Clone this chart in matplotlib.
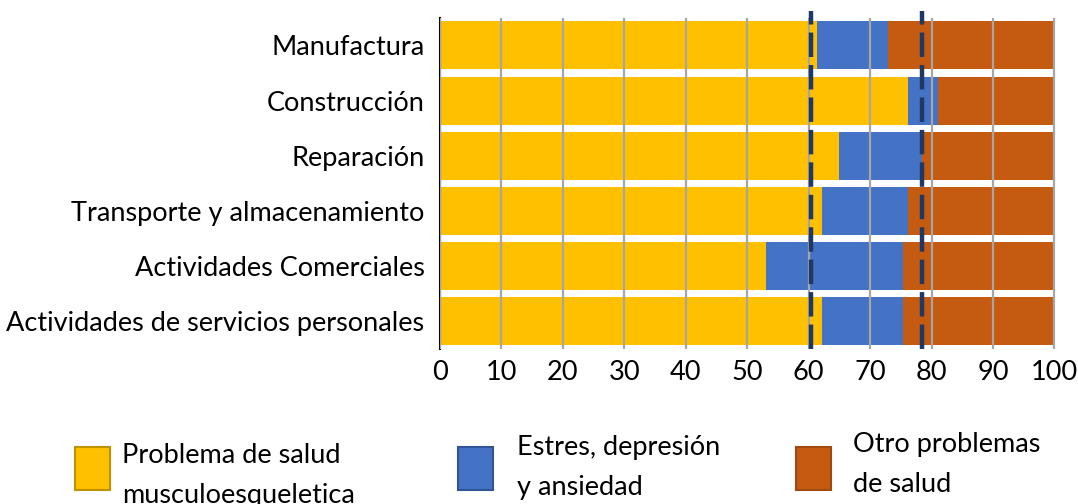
import matplotlib.pyplot as plt
from matplotlib.patches import Rectangle

# Data (percent of workers per sector)
categories = ['Manufactura', 'Construcción', 'Reparación',
              'Transporte y almacenamiento', 'Actividades Comerciales',
              'Actividades de servicios personales']
musculo = [61.4, 76.1, 65.0, 62.2, 53.1, 62.2]
estres = [11.6, 5.0, 13.5, 13.9, 22.2, 13.1]
otro = [27.0, 18.9, 21.5, 23.9, 24.7, 24.7]
ref_lines = [60.4, 78.4]
x_ticks = [0, 10, 20, 30, 40, 50, 60, 70, 80, 90, 100]

labels = ['Problema de salud\nmusculoesqueletica', 'Estres, depresión\ny ansiedad',
          'Otro problemas\nde salud']
colors = ['#FFC000', '#4472C4', '#C55A11']
edges = ['#BF9000', '#2F5597', '#A04A10']

plt.rcParams['font.family'] = ['Lato', 'DejaVu Sans']

fig = plt.figure(figsize=(10.78, 5.04), dpi=100)
ax = fig.add_axes([0.408, 0.3075, 0.573, 0.657])

# first category on top
y = list(range(len(categories)))[::-1]
left = [0] * len(categories)
for vals, c in zip([musculo, estres, otro], colors):
    ax.barh(y, vals, left=left, height=0.87, color=c, zorder=2)
    left = [a + b for a, b in zip(left, vals)]

for xv in ref_lines:
    ax.axvline(xv, ymin=0, ymax=1.02, color='#203864', lw=3.2,
               dashes=(5.5, 1.8), zorder=4, clip_on=False)

ax.set_xlim(0, 100.5)
ax.set_ylim(-0.5, 5.5)
ax.set_xticks(x_ticks)
ax.set_yticks(y)
ax.set_yticklabels(categories)
ax.tick_params(axis='both', length=0, labelsize=19.5)
ax.tick_params(axis='y', pad=11)
ax.tick_params(axis='x', pad=8)
ax.grid(axis='x', color='#A6A6A6', lw=1.6, zorder=3)
ax.set_axisbelow(False)
for s in ['top', 'right', 'bottom']:
    ax.spines[s].set_visible(False)
ax.spines['left'].set_color('black')
ax.spines['left'].set_linewidth(1.5)

# legend drawn by hand to match the placement
W, H = 1078, 504
pos = [(75, 122, 458), (458, 517, 450), (796, 853, 447)]
for (px, tx, ty), lab, c, e in zip(pos, labels, colors, edges):
    fig.patches.append(Rectangle((px / W, 1 - 490 / H), 35 / W, 43 / H,
                                 transform=fig.transFigure, facecolor=c,
                                 edgecolor=e, lw=1.5))
    fig.text(tx / W, 1 - (ty - 15) / H, lab, fontsize=19.5, va='top',
             ha='left', linespacing=1.75)

fig.savefig('out.png', dpi=100)
